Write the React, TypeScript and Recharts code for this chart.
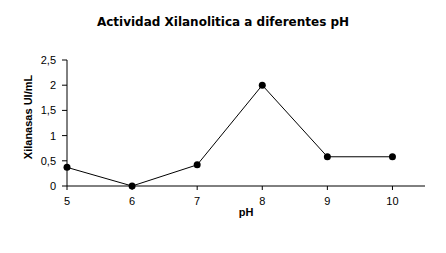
import React from 'react';
import { LineChart, Line, XAxis, YAxis } from 'recharts';

const phValues = [5, 6, 7, 8, 9, 10];
const xilanasas = [0.37, 0, 0.42, 2.0, 0.58, 0.58];
const xTicks = [5, 6, 7, 8, 9, 10];
const yTicks = [0, 0.5, 1, 1.5, 2, 2.5];

const data = phValues.map((ph, i) => ({ ph, v: xilanasas[i] }));
const fmt = (n: number) => String(n).replace('.', ',');
const font = 'Liberation Sans, Arial, sans-serif';

export default function App() {
  return (
    <div style={{ position: 'absolute', left: 0, top: 0, width: 446, height: 253, background: '#fff', fontFamily: font }}>
      <div style={{ position: 'absolute', left: 0, width: 446, top: 15, textAlign: 'center', fontSize: 12, fontWeight: 'bold', color: '#000', fontFamily: 'DejaVu Sans, sans-serif' }}>
        Actividad Xilanolitica a diferentes pH
      </div>
      <div style={{ position: 'absolute', left: 27.5, top: 117, width: 0, height: 0 }}>
        <div style={{ position: 'absolute', left: -60, top: -7, width: 120, textAlign: 'center', fontSize: 11, lineHeight: '14px', fontWeight: 'bold', color: '#000', transform: 'rotate(-90deg)', whiteSpace: 'nowrap' }}>
          Xilanasas UI/mL
        </div>
      </div>
      <LineChart width={446} height={253} data={data} margin={{ top: 60, right: 21, left: 0, bottom: 0 }}>
        <XAxis
          dataKey="ph"
          type="number"
          domain={[5, 10.5]}
          ticks={xTicks}
          interval={0}
          stroke="#000"
          tickSize={4}
          tickMargin={7}
          height={67}
          tick={{ fill: '#000', fontSize: 11, fontFamily: font }}
          label={{ value: 'pH', position: 'insideTop', offset: 22, fill: '#000', fontSize: 11, fontWeight: 'bold', fontFamily: font }}
        />
        <YAxis
          type="number"
          domain={[0, 2.5]}
          ticks={yTicks}
          interval={0}
          width={67}
          stroke="#000"
          tickSize={5}
          tickMargin={6}
          tickFormatter={fmt}
          tick={{ fill: '#000', fontSize: 11, fontFamily: font }}
        />
        <Line
          dataKey="v"
          stroke="#000"
          strokeWidth={1}
          isAnimationActive={false}
          dot={{ r: 3.5, fill: '#000', stroke: '#000', strokeWidth: 0 }}
        />
      </LineChart>
    </div>
  );
}
